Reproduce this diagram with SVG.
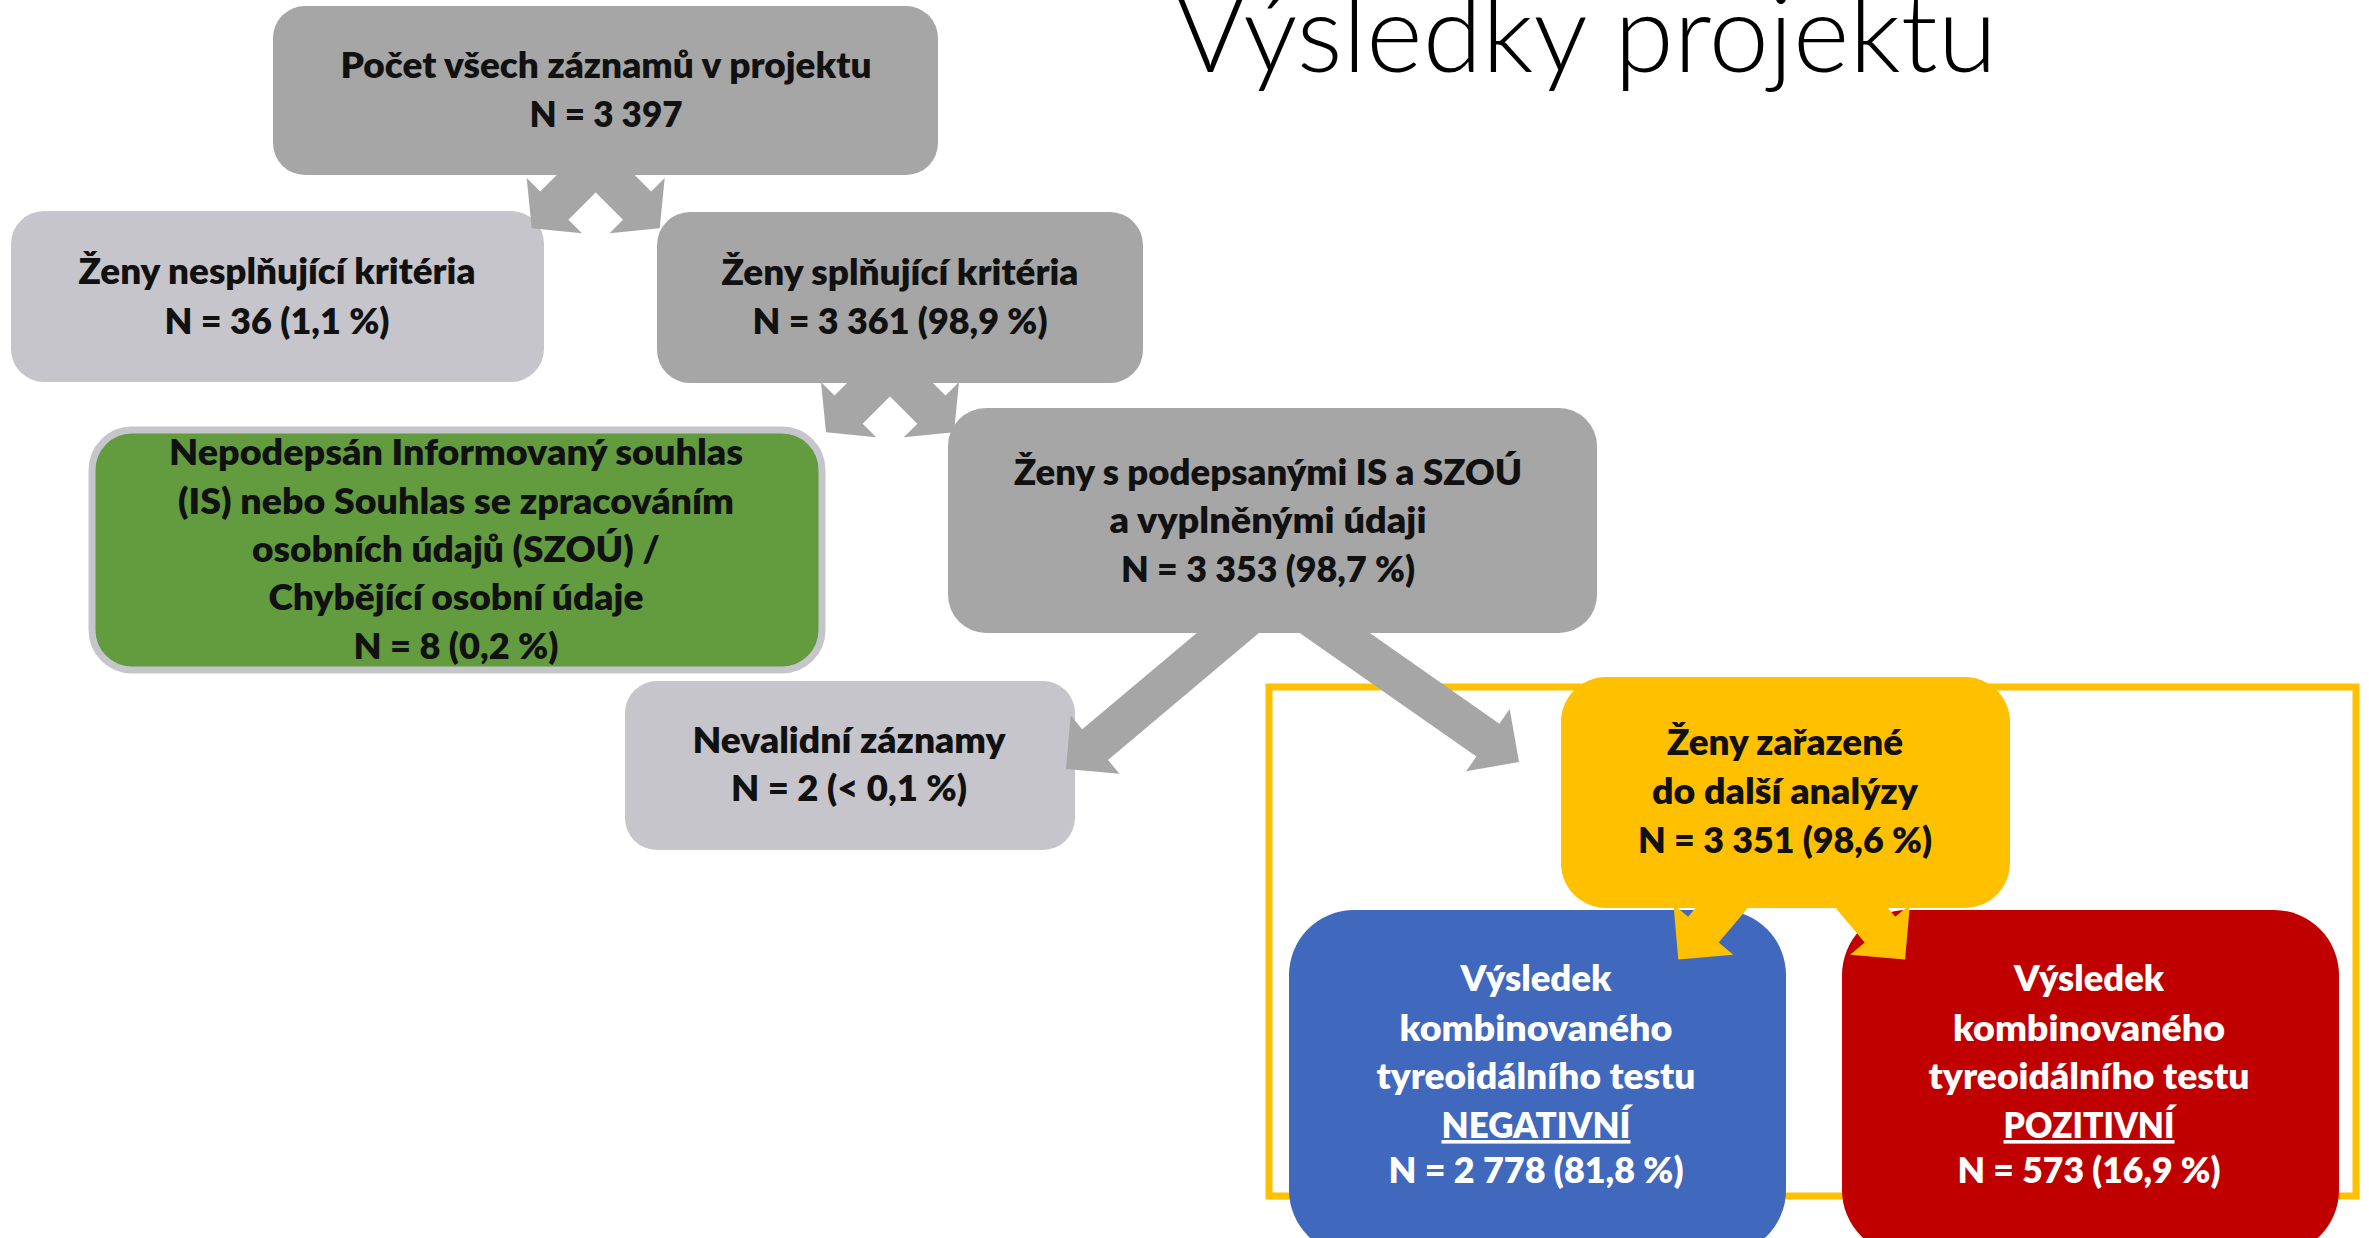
<svg xmlns="http://www.w3.org/2000/svg" width="2369" height="1238" viewBox="0 0 2369 1238">
<style>
  text { font-family: Lato, "Open Sans", "DejaVu Sans", sans-serif; font-weight: 800; font-size: 36px; text-anchor: middle; }
  .dk { fill: #111111; }
  .wt { fill: #ffffff; }
  .gray { fill: #A6A6A6; }
  .light { fill: #C5C5CB; }
  .ag { fill: #A6A6A6; }
  .ay { fill: #FFC000; }
  .title { font-weight: 300; font-size: 108px; fill: #000000; text-anchor: start; }
  .u { text-decoration: underline; }
</style>
<rect width="2369" height="1238" fill="#ffffff"/>

<text class="title" x="1175" y="72" textLength="822" lengthAdjust="spacingAndGlyphs">Výsledky projektu</text>

<g id="frame">
  <rect x="1269" y="687" width="1087" height="509" fill="none" stroke="#FFC000" stroke-width="7"/>
</g>

<g id="n-total">
  <rect class="gray" x="273" y="6" width="665" height="169" rx="32"/>
  <text class="dk" x="606" y="78" textLength="531" lengthAdjust="spacingAndGlyphs">Počet všech záznamů v projektu</text>
  <text class="dk" x="606" y="127" textLength="153" lengthAdjust="spacingAndGlyphs">N = 3 397</text>
</g>

<g id="n-excluded">
  <rect class="light" x="11" y="211" width="533" height="171" rx="33"/>
  <text class="dk" x="277" y="284" textLength="397" lengthAdjust="spacingAndGlyphs">Ženy nesplňující kritéria</text>
  <text class="dk" x="277" y="334" textLength="225" lengthAdjust="spacingAndGlyphs">N = 36 (1,1 %)</text>
</g>

<g id="n-eligible">
  <rect class="gray" x="657" y="212" width="486" height="171" rx="33"/>
  <text class="dk" x="900" y="285" textLength="357" lengthAdjust="spacingAndGlyphs">Ženy splňující kritéria</text>
  <text class="dk" x="900" y="334" textLength="295" lengthAdjust="spacingAndGlyphs">N = 3 361 (98,9 %)</text>
</g>

<g id="n-noconsent">
  <rect x="92" y="430" width="730" height="240" rx="40" fill="#639B3F" stroke="#C5C5CB" stroke-width="7"/>
  <text class="dk" x="456" y="465" textLength="574" lengthAdjust="spacingAndGlyphs">Nepodepsán Informovaný souhlas</text>
  <text class="dk" x="456" y="514" textLength="556" lengthAdjust="spacingAndGlyphs">(IS) nebo Souhlas se zpracováním</text>
  <text class="dk" x="456" y="562" textLength="408" lengthAdjust="spacingAndGlyphs">osobních údajů (SZOÚ) /</text>
  <text class="dk" x="456" y="610" textLength="375" lengthAdjust="spacingAndGlyphs">Chybějící osobní údaje</text>
  <text class="dk" x="456" y="659" textLength="205" lengthAdjust="spacingAndGlyphs">N = 8 (0,2 %)</text>
</g>

<g id="n-signed">
  <rect class="gray" x="948" y="408" width="649" height="225" rx="38"/>
  <text class="dk" x="1268" y="485" textLength="508" lengthAdjust="spacingAndGlyphs">Ženy s podepsanými IS a SZOÚ</text>
  <text class="dk" x="1268" y="533" textLength="317" lengthAdjust="spacingAndGlyphs">a vyplněnými údaji</text>
  <text class="dk" x="1268" y="582" textLength="294" lengthAdjust="spacingAndGlyphs">N = 3 353 (98,7 %)</text>
</g>

<g id="n-invalid">
  <rect class="light" x="625" y="681" width="450" height="169" rx="32"/>
  <text class="dk" x="849" y="753" textLength="313" lengthAdjust="spacingAndGlyphs">Nevalidní záznamy</text>
  <text class="dk" x="849" y="801" textLength="236" lengthAdjust="spacingAndGlyphs">N = 2 (&lt; 0,1 %)</text>
</g>

<g id="n-included">
  <rect x="1561" y="677" width="449" height="231" rx="45" fill="#FFC000"/>
  <text class="dk" x="1785" y="755" textLength="236" lengthAdjust="spacingAndGlyphs">Ženy zařazené</text>
  <text class="dk" x="1785" y="804" textLength="266" lengthAdjust="spacingAndGlyphs">do další analýzy</text>
  <text class="dk" x="1785" y="853" textLength="294" lengthAdjust="spacingAndGlyphs">N = 3 351 (98,6 %)</text>
</g>

<g id="n-negative">
  <rect x="1289" y="910" width="497" height="345" rx="65" fill="#4068BD"/>
  <text class="wt" x="1536" y="991" textLength="151" lengthAdjust="spacingAndGlyphs">Výsledek</text>
  <text class="wt" x="1536" y="1041" textLength="273" lengthAdjust="spacingAndGlyphs">kombinovaného</text>
  <text class="wt" x="1536" y="1089" textLength="319" lengthAdjust="spacingAndGlyphs">tyreoidálního testu</text>
  <text class="wt u" x="1536" y="1138" textLength="189" lengthAdjust="spacingAndGlyphs">NEGATIVNÍ</text>
  <text class="wt" x="1536" y="1183" textLength="295" lengthAdjust="spacingAndGlyphs">N = 2 778 (81,8 %)</text>
</g>

<g id="n-positive">
  <rect x="1842" y="910" width="497" height="345" rx="65" fill="#C00000"/>
  <text class="wt" x="2089" y="991" textLength="150" lengthAdjust="spacingAndGlyphs">Výsledek</text>
  <text class="wt" x="2089" y="1041" textLength="272" lengthAdjust="spacingAndGlyphs">kombinovaného</text>
  <text class="wt" x="2089" y="1089" textLength="321" lengthAdjust="spacingAndGlyphs">tyreoidálního testu</text>
  <text class="wt u" x="2089" y="1138" textLength="171" lengthAdjust="spacingAndGlyphs">POZITIVNÍ</text>
  <text class="wt" x="2089" y="1183" textLength="263" lengthAdjust="spacingAndGlyphs">N = 573 (16,9 %)</text>
</g>

<g id="connectors">
  <polygon class="ag" points="595.9,135.9 540.2,191.6 526.7,178.1 531.7,228.3 581.9,233.3 568.4,219.8 624.1,164.1"/>
  <polygon class="ag" points="595.5,135.9 651.2,191.6 664.7,178.1 659.7,228.3 609.5,233.3 623,219.8 567.3,164.1"/>
  <polygon class="ag" points="890.2,339.9 834.5,395.6 821,382.1 826,432.3 876.2,437.3 862.7,423.8 918.4,368.1"/>
  <polygon class="ag" points="889.8,339.9 945.5,395.6 959,382.1 954,432.3 903.8,437.3 917.3,423.8 861.6,368.1"/>
  <polygon class="ag" points="1242.3,594.7 1082.2,729.3 1070.7,715.5 1066,769 1119.5,773.7 1108,759.9 1268.1,625.3"/>
  <polygon class="ag" points="1313.4,593.6 1499.4,723.8 1509.7,709.1 1519,762 1466.1,771.3 1476.4,756.6 1290.4,626.4"/>
  <polygon class="ay" points="1729.8,867.1 1688.1,916.7 1673.5,904.5 1678.3,959.5 1733.3,954.7 1718.7,942.5 1760.4,892.9"/>
  <polygon class="ay" points="1853.6,867.1 1895.3,916.7 1909.9,904.5 1905.1,959.5 1850.1,954.7 1864.7,942.5 1823,892.9"/>
</g>
</svg>
